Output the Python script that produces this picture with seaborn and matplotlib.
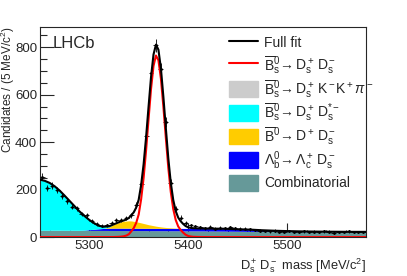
import numpy as np
import matplotlib
matplotlib.use('Agg')
import matplotlib.pyplot as plt
from matplotlib.lines import Line2D
from matplotlib.patches import Patch, Rectangle
from matplotlib.legend_handler import HandlerPatch
import seaborn as sns

# binned data (5 MeV bins)
data_mass = np.arange(5252.5, 5580, 5)
data_counts = [255, 207, 216, 198, 172, 150, 128, 122, 97, 92,
               66, 55, 48, 50, 60, 70, 73, 80, 92, 135,
               225, 425, 690, 808, 707, 485, 229, 120, 82, 60,
               50, 45, 42, 38, 44, 36, 40, 37, 41, 38,
               36, 35, 33, 30, 27, 26, 24, 27, 23, 22,
               25, 21, 22, 24, 20, 23, 21, 24, 23, 19,
               22, 20, 24, 21, 22, 21]

# fit curve sampling points (finer under the peak)
fit_mass = np.concatenate([np.arange(5250, 5331, 5),
                           np.arange(5332.5, 5405.1, 2.5),
                           np.arange(5410, 5581, 5)])

combinatorial = [29, 29, 29, 29, 29, 28.8, 28.7, 28.6, 28.5, 28.4, 28.3, 28.2, 28.1, 28, 27.9, 27.8, 27.7,
                 27.7, 27.6, 27.6, 27.5, 27.5, 27.4, 27.4, 27.3, 27.3, 27.2, 27.2, 27.1, 27.1, 27, 27,
                 26.9, 26.9, 26.8, 26.8, 26.7, 26.7, 26.6, 26.6, 26.5, 26.5, 26.4, 26.4, 26.3, 26.3, 26.2,
                 26.1, 26, 25.8, 25.6, 25.4, 25.2, 25, 24.8, 24.6, 24.4, 24.2, 24, 23.9, 23.8, 23.7,
                 23.6, 23.5, 23.4, 23.3, 23.2, 23.1, 23, 22.9, 22.8, 22.7, 22.6, 22.5, 22.4, 22.3, 22.2,
                 22.1, 22, 22, 22, 22]
lambdab = [0, 0, 0, 0, 0, 0, 0, 0, 0, 1, 3, 5, 7, 8.5, 9.5, 10, 10,
           10, 10, 10, 10, 10, 10, 10, 10, 10, 10, 10, 10, 10, 10, 10,
           10, 10, 10, 10, 10, 10, 10, 10, 10, 10, 10, 10, 10, 10, 10,
           10, 10, 10, 10, 10, 10, 9.5, 9, 8.5, 8, 7.5, 7, 6, 5, 4.3, 3.6, 3, 2.4, 2, 1.6, 1.2,
           0.9, 0.7, 0.5, 0.4, 0.3, 0.2, 0.15, 0.1, 0.1, 0, 0, 0, 0, 0]
b0_dds = [0, 0, 0, 0, 0, 0, 0, 0, 0, 0, 0, 0, 0, 0.5, 5, 16, 24,
          27, 29, 30, 31, 30.5, 29, 27, 25, 22.5, 20, 17.5, 15, 13, 11, 9,
          7.5, 6, 4.8, 3.8, 2.9, 2.2, 1.6, 1.1, 0.7, 0.4, 0.2, 0.1, 0, 0, 0] + [0] * 35
bs_dsstar = [213, 208, 199, 185, 167, 146, 124, 102, 80, 60, 41, 25, 12, 7, 3, 0, 0] + [0] * 65
bs_kkpi = [0] * 82  # too small to see
signal = [0] * 15 + [0.3, 1,
          2, 3.5, 6.5, 12, 24, 38, 60, 95, 160, 250, 366, 497, 624, 721, 765,
          745, 668, 550, 418, 292, 190, 118, 72, 45, 30, 19, 10, 5, 2.5, 1.2,
          0.5, 0.2] + [0] * 33

colors = {'comb': '#669999', 'lb': '#0000ff', 'b0': '#ffcc00',
          'dsstar': '#00ffff', 'kkpi': '#cccccc'}

sns.set_style('ticks')
plt.rcParams['font.family'] = ['Liberation Sans', 'DejaVu Sans']
plt.rcParams['mathtext.fontset'] = 'custom'
plt.rcParams['mathtext.rm'] = 'Liberation Sans'
plt.rcParams['mathtext.it'] = 'Liberation Sans:italic'
plt.rcParams['mathtext.bf'] = 'Liberation Sans:bold'

fig = plt.figure(figsize=(4.07, 2.76), dpi=100)
ax = fig.add_axes([0.098, 0.141, 0.801, 0.761])

# stacked background components
base = np.zeros(len(fit_mass))
for vals, key in [(combinatorial, 'comb'), (lambdab, 'lb'), (b0_dds, 'b0'),
                  (bs_dsstar, 'dsstar'), (bs_kkpi, 'kkpi')]:
    top = base + np.array(vals, dtype=float)
    ax.fill_between(fit_mass, base, top, color=colors[key], lw=0, zorder=1)
    base = top
full_fit = base + np.array(signal, dtype=float)

ax.errorbar(data_mass, data_counts, yerr=np.sqrt(data_counts), xerr=2.5,
            fmt='.', ms=2, color='black', lw=0.6, capsize=0, zorder=3)
sns.lineplot(x=fit_mass, y=signal, color='red', lw=1.5, ax=ax, zorder=4)
sns.lineplot(x=fit_mass, y=full_fit, color='black', lw=1.5, ax=ax, zorder=5)

ax.set_xlim(5250, 5580)
ax.set_ylim(0, 885)
ax.set_xticks([5300, 5400, 5500])
ax.set_xticks(np.arange(5260, 5580, 20), minor=True)
ax.set_yticks([0, 200, 400, 600, 800])
ax.set_yticks(np.arange(0, 885, 50), minor=True)
ax.tick_params(which='major', direction='in', length=10, width=0.8, labelsize=9.5, pad=2)
ax.tick_params(which='minor', direction='in', length=5, width=0.8)
for sp in ax.spines.values():
    sp.set_linewidth(0.8)

fig.text(8 / 407, 1 - 27 / 276, 'Candidates / (5 MeV/c$^2$)', fontsize=8.5,
         rotation=90, ha='center', va='top')
ax.set_xlabel(r'$\mathrm{D_s^+\,D_s^-}$ mass [MeV/c$^2$]', fontsize=9.3, loc='right')
ax.xaxis.set_label_coords(1.0, -0.09)

ax.text(0.04, 0.924, 'LHCb', transform=ax.transAxes, fontsize=12, va='center', ha='left')


def small_box(legend, orig_handle, xdescent, ydescent, width, height, fontsize):
    h = 11.5
    return Rectangle((-xdescent, -ydescent + (height - h) / 2), width, h)


handles = [Line2D([], [], color='black', lw=1.5),
           Line2D([], [], color='red', lw=1.5),
           Patch(color=colors['kkpi']),
           Patch(color=colors['dsstar']),
           Patch(color=colors['b0']),
           Patch(color=colors['lb']),
           Patch(color=colors['comb'])]
labels = ['Full fit',
          r'$\overline{\mathrm{B}}{}^0_\mathrm{s}\!\rightarrow \mathrm{D}_\mathrm{s}^+\,\mathrm{D}_\mathrm{s}^-$',
          r'$\overline{\mathrm{B}}{}^0_\mathrm{s}\!\rightarrow \mathrm{D}_\mathrm{s}^+\,\mathrm{K}^-\mathrm{K}^+\pi^-$',
          r'$\overline{\mathrm{B}}{}^0_\mathrm{s}\!\rightarrow \mathrm{D}_\mathrm{s}^+\,\mathrm{D}_\mathrm{s}^{*-}$',
          r'$\overline{\mathrm{B}}{}^0\!\rightarrow \mathrm{D}^+\,\mathrm{D}_\mathrm{s}^-$',
          r'$\Lambda_\mathrm{b}^0\!\rightarrow \Lambda_\mathrm{c}^+\,\mathrm{D}_\mathrm{s}^-$',
          'Combinatorial']
ax.legend(handles, labels, loc='upper left', bbox_to_anchor=(0.58, 0.967), frameon=False,
          fontsize=10, borderpad=0, borderaxespad=0, handlelength=2.1, handleheight=1.6,
          handletextpad=0.45, labelspacing=0.15,
          handler_map={Patch: HandlerPatch(patch_func=small_box)})

fig.savefig('out.png', dpi=100)
